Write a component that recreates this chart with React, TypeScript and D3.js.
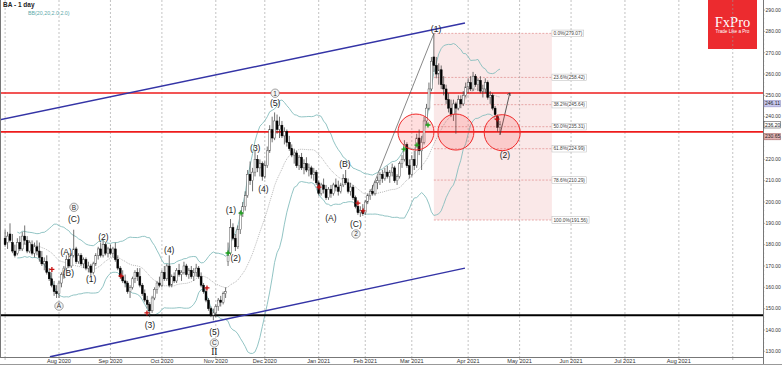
import React, { useRef, useEffect } from "react";
import * as d3 from "d3";

const W = 782;
const H = 366;

// BA daily candles from 1 Jul 2020 to 21 Apr 2021: [open, high, low, close]
const candles: number[][] = [
  // Jul 2020
  [183, 187, 179, 180], [181, 186, 178, 184], [185, 190, 181, 182], [181, 185, 176, 177],
  [177, 180, 174, 175], [176, 183, 175, 181], [181, 184, 177, 178], [178, 186, 177, 184],
  [184, 189, 180, 182], [182, 184, 176, 177], [177, 182, 176, 181], [180, 182, 175, 176],
  [176, 181, 174, 179], [179, 182, 175, 177], [177, 181, 172, 174], [174, 177, 170, 171],
  [171, 174, 168, 172], [172, 175, 166, 167], [167, 169, 163, 164], [164, 167, 160, 161],
  [161, 163, 156, 158], [158, 161, 155, 157],
  // Aug
  [157, 163, 155, 162], [162, 167, 160, 166], [166, 170, 164, 169], [169, 175, 168, 173],
  [173, 176, 169, 170], [170, 176, 169, 175], [175, 187, 174, 178], [178, 179, 171, 172],
  [172, 176, 171, 175], [175, 176, 170, 171], [171, 174, 169, 173], [173, 174, 168, 169],
  [169, 172, 167, 170], [170, 171, 165, 167], [167, 172, 166, 171], [171, 176, 170, 175],
  [175, 179, 173, 178], [178, 181, 174, 175], [175, 182, 174, 180], [180, 181, 175, 176],
  [176, 179, 174, 178],
  // Sep
  [178, 180, 175, 176], [176, 179, 174, 178], [178, 181, 172, 173], [173, 175, 168, 169],
  [169, 170, 164, 165], [165, 168, 162, 163], [163, 166, 160, 162], [162, 163, 157, 158],
  [158, 161, 155, 160], [160, 165, 159, 164], [164, 168, 162, 167], [167, 169, 163, 165],
  [165, 169, 160, 161], [161, 162, 156, 157], [157, 159, 153, 154], [154, 156, 150, 152],
  [152, 153, 146, 149], [149, 156, 148, 155], [155, 160, 154, 159], [159, 163, 157, 162],
  [162, 165, 160, 161],
  // Oct
  [161, 168, 160, 167], [167, 170, 163, 164], [164, 171, 163, 170], [170, 175, 160, 161],
  [161, 166, 160, 165], [165, 167, 162, 163], [163, 169, 162, 168], [168, 171, 165, 166],
  [166, 168, 163, 167], [167, 172, 166, 170], [170, 171, 165, 166], [166, 169, 164, 168],
  [168, 170, 164, 165], [165, 169, 163, 167], [167, 171, 165, 169], [169, 170, 164, 165],
  [165, 167, 160, 161], [161, 162, 157, 158], [158, 160, 153, 154], [154, 155, 149, 150],
  [150, 151, 146, 147], [147, 150, 144.5, 148],
  // Nov
  [148, 152, 146, 151], [151, 155, 149, 154], [154, 156, 151, 153], [153, 158, 152, 157],
  [157, 160, 155, 158], [172, 181, 170, 175], [176, 192, 175, 188], [188, 190, 182, 183],
  [183, 185, 177, 179], [179, 189, 178, 187], [187, 196, 185, 195], [195, 200, 193, 198],
  [198, 205, 196, 203], [203, 215, 202, 213], [213, 219, 208, 210], [210, 216, 205, 214],
  [214, 224, 212, 220], [220, 222, 214, 216], [216, 220, 212, 218], [218, 219, 210, 212],
  // Dec
  [212, 219, 211, 217], [217, 226, 216, 224], [224, 236, 223, 234], [234, 240, 228, 230],
  [230, 242, 229, 238], [238, 241, 232, 234], [234, 240, 230, 236], [236, 238, 230, 231],
  [231, 235, 227, 233], [233, 234, 226, 228], [228, 231, 224, 225], [225, 227, 221, 222],
  [222, 225, 218, 223], [223, 224, 216, 217], [217, 222, 215, 221], [221, 223, 215, 216],
  [216, 220, 213, 218], [218, 221, 214, 215], [215, 218, 212, 216], [216, 217, 211, 213],
  [213, 216, 210, 214], [214, 215, 208, 209],
  // Jan 2021
  [209, 210, 203, 204], [204, 209, 203, 208], [208, 211, 204, 206], [206, 208, 201, 202],
  [202, 207, 201, 206], [206, 208, 202, 204], [204, 209, 203, 208], [208, 211, 205, 207],
  [207, 210, 203, 205], [205, 209, 204, 208], [208, 213, 207, 211], [211, 215, 208, 209],
  [209, 211, 204, 205], [205, 209, 203, 207], [207, 208, 201, 202], [202, 203, 197, 198],
  [198, 200, 194, 195], [195, 198, 193, 196], [196, 199, 193.5, 194.5],
  // Feb
  [195, 201, 194, 200], [200, 204, 199, 203], [203, 206, 201, 205], [205, 208, 203, 204],
  [204, 210, 203, 209], [209, 212, 206, 210], [210, 214, 208, 213], [213, 215, 209, 211],
  [211, 216, 210, 214], [214, 217, 211, 212], [212, 215, 209, 214], [214, 218, 212, 216],
  [216, 217, 209, 210], [210, 213, 208, 212], [212, 219, 211, 218], [218, 222, 216, 220],
  [220, 229, 219, 227], [227, 228, 216, 217], [217, 220, 211, 213],
  // Mar
  [213, 222, 212, 220], [220, 224, 215, 217], [217, 232, 216, 230], [230, 234, 222, 224],
  [224, 231, 215, 228], [228, 240, 227, 238], [238, 246, 236, 244], [244, 256, 243, 253],
  [253, 268, 252, 266], [268, 279, 261, 264], [264, 268, 258, 260], [260, 265, 255, 262],
  [262, 264, 253, 255], [255, 259, 250, 253], [253, 255, 246, 248], [248, 251, 242, 244],
  [244, 248, 240, 241], [241, 248, 238, 246], [246, 247, 232, 244], [244, 250, 243, 248],
  [248, 250, 244, 246], [246, 252, 245, 250], [250, 256, 249, 254],
  // Apr
  [254, 258, 251, 256], [256, 259, 252, 253], [253, 261, 252, 259], [259, 260, 254, 255],
  [255, 258, 252, 257], [257, 259, 251, 252], [252, 255, 249, 253], [253, 258, 251, 256],
  [256, 257, 248, 249], [249, 252, 246, 250], [250, 251, 243, 244], [244, 245, 240, 241],
  [240, 241, 233, 235], [235, 238, 231.5, 236.2],
];

// bar index of the first bar of each month (future bars count weekdays)
const monthLabels = ["", "Aug 2020", "Sep 2020", "Oct 2020", "Nov 2020", "Dec 2020", "Jan 2021",
  "Feb 2021", "Mar 2021", "Apr 2021", "May 2021", "Jun 2021", "Jul 2021", "Aug 2021", ""];
const monthIdx = [0, 22, 43, 64, 86, 106, 128, 147, 166, 189, 210, 231, 253, 275, 297];

const priceTicks = [130, 140, 150, 160, 170, 180, 190, 200, 210, 220, 230, 240, 250, 260, 270, 280, 290];

// horizontal levels
const redLevels = [251.1, 232.9];
const supportLevel = 146.9;

// channel lines: [index, price] pairs
const upperChannel = [[-3, 238.3], [187.7, 283.9]];
const lowerChannel = [[18.3, 127.4], [187.7, 169.0]];
const trendLine = [[146, 195.5], [175, 279]];
const projection = [[202, 231.5], [206, 251.1]];

// fibonacci retracement
const fibHigh = 279.07;
const fibLow = 191.56;
const fibRatios = [0, 0.236, 0.382, 0.5, 0.618, 0.786, 1];
const fibFrom = 175;
const fibTo = 223.2;

// highlighted zones (index, price)
const circles = [[167.7, 232.8], [184.0, 232.8], [202.9, 232.5]];

// signal crosses
const redCrosses = [[19.1, 168.4], [47.3, 165.3], [57.9, 148.0], [82.4, 159.7], [128.1, 207.0], [144.0, 199.5], [146.1, 195.8], [200.8, 238.9]];
const greenCrosses = [[91.0, 176.1], [96.3, 194.8], [162.8, 224.8], [168.1, 226.7], [172.6, 236.1]];

// wave labels: text, index, price, circled
const waveLabels: [string, number, number, boolean][] = [
  ["A", 22.0, 151.2, true], ["(A)", 24.9, 176.6, false], ["(B)", 25.8, 166.8, false],
  ["(C)", 28.1, 191.9, false], ["B", 28.1, 197.5, true], ["(1)", 35.1, 163.8, false],
  ["(2)", 40.1, 183.7, false], ["(3)", 59.1, 142.3, false], ["(4)", 67.0, 177.5, false],
  ["(5)", 85.4, 139.0, false], ["C", 85.4, 133.9, true],
  ["(1)", 92.2, 196.2, false], ["(2)", 94.1, 173.6, false], ["(3)", 102.1, 225.2, false],
  ["(4)", 105.4, 205.9, false], ["(5)", 110.2, 246.3, false], ["1", 110.2, 251.0, true],
  ["(A)", 133.0, 192.4, false], ["(B)", 138.7, 217.7, false], ["(C)", 143.2, 189.9, false],
  ["2", 143.2, 185.0, true], ["(1)", 175.9, 281.0, false], ["(2)", 204.0, 222.0, false],
];

// price boxes on the right scale
const axisMarks = [
  { v: 246.11, fill: "#c9c9ef", stroke: "#8888bb" },
  { v: candles[candles.length - 1][3], fill: "#ffffff", stroke: "#333333" },
  { v: 230.65, fill: "#e2b4b4", stroke: "#a06060" },
];

const FONT = "'Liberation Sans', Arial, sans-serif";

export default function App() {
  const svgRef = useRef<SVGSVGElement>(null);

  useEffect(() => {
    const svg = d3.select(svgRef.current);
    svg.selectAll("*").remove();

    const plotR = 763;
    const plotB = 357;

    const x = d3.scaleLinear().domain([0, 300]).range([5.1, 5.1 + 2.45 * 300]);
    const y = d3.scaleLinear().domain([130, 290]).range([351.3, 10.05]);

    svg.append("rect").attr("width", W).attr("height", H).attr("fill", "#fff");

    svg.append("defs").append("clipPath").attr("id", "plot")
      .append("rect").attr("x", 0).attr("y", 0).attr("width", plotR).attr("height", plotB);

    const g = svg.append("g").attr("clip-path", "url(#plot)");

    // fib box
    g.append("rect")
      .attr("x", x(fibFrom)).attr("y", y(fibHigh))
      .attr("width", x(fibTo) - x(fibFrom)).attr("height", y(fibLow) - y(fibHigh))
      .attr("fill", "rgba(232,150,150,0.22)");
    const fibLevels = fibRatios.map((r) => ({ r, v: fibHigh - r * (fibHigh - fibLow) }));
    g.selectAll(".fib").data(fibLevels).join("line")
      .attr("x1", x(fibFrom)).attr("x2", x(fibTo))
      .attr("y1", (d) => y(d.v)).attr("y2", (d) => y(d.v))
      .attr("stroke", "#e08a8a").attr("stroke-width", 0.7).attr("stroke-dasharray", "2,1.5");

    // logo (under grid)
    const logo = g.append("g");
    logo.append("rect").attr("x", 708).attr("y", 0).attr("width", 49).attr("height", 49).attr("fill", "#ec2b2f");
    logo.append("text").attr("x", 732.5).attr("y", 27).attr("text-anchor", "middle")
      .attr("font-family", "'Liberation Serif', 'DejaVu Serif', serif").attr("font-size", 14.5)
      .attr("fill", "#fff").text("FxPro");
    logo.append("text").attr("x", 732.5).attr("y", 33).attr("text-anchor", "middle")
      .attr("font-family", FONT).attr("font-size", 4.6).attr("fill", "#fff").text("Trade Like a Pro");

    // vertical grid
    g.selectAll(".grid").data(monthIdx).join("line")
      .attr("x1", (d) => x(d)).attr("x2", (d) => x(d))
      .attr("y1", 0).attr("y2", plotB)
      .attr("stroke", "#9a9a9a").attr("stroke-width", 0.6).attr("stroke-dasharray", "2,2");

    // bollinger bands (20, 2)
    const closes = candles.map((d) => d[3]);
    const bb = closes.map((_, i) => {
      const w = closes.slice(Math.max(0, i - 19), i + 1);
      const m = d3.mean(w) as number;
      const s = Math.sqrt(d3.mean(w, (v) => (v - m) ** 2) as number);
      return { i, m, up: m + 2 * s, lo: m - 2 * s };
    }).filter((d) => d.i >= 5);
    const lineOf = (f: (d: any) => number) => d3.line<any>().x((d) => x(d.i)).y((d) => y(f(d)));
    g.append("path").attr("d", lineOf((d) => d.up)(bb)).attr("fill", "none").attr("stroke", "#86bdbd").attr("stroke-width", 0.9);
    g.append("path").attr("d", lineOf((d) => d.lo)(bb)).attr("fill", "none").attr("stroke", "#86bdbd").attr("stroke-width", 0.9);
    g.append("path").attr("d", lineOf((d) => d.m)(bb)).attr("fill", "none").attr("stroke", "#888").attr("stroke-width", 0.6).attr("stroke-dasharray", "1,1");

    // horizontal levels
    g.selectAll(".red").data(redLevels).join("line")
      .attr("x1", 0).attr("x2", plotR).attr("y1", (d) => y(d)).attr("y2", (d) => y(d))
      .attr("stroke", "#ee1c1c").attr("stroke-width", 1.6);
    g.append("line").attr("x1", 0).attr("x2", plotR).attr("y1", y(supportLevel)).attr("y2", y(supportLevel))
      .attr("stroke", "#000").attr("stroke-width", 2);

    // channel and trend lines
    const seg = (pts: number[][], color: string, w: number) =>
      g.append("line")
        .attr("x1", x(pts[0][0])).attr("y1", y(pts[0][1]))
        .attr("x2", x(pts[1][0])).attr("y2", y(pts[1][1]))
        .attr("stroke", color).attr("stroke-width", w);
    seg(upperChannel, "#3434a6", 1.5);
    seg(lowerChannel, "#3434a6", 1.5);
    seg(trendLine, "#555", 0.7);
    seg(projection, "#333", 0.8);
    g.append("path")
      .attr("d", `M${x(projection[1][0]) - 2.5},${y(projection[1][1]) + 1.5} l2.5,-1.5 l0.5,2.8`)
      .attr("fill", "none").attr("stroke", "#333").attr("stroke-width", 0.8);

    // candles
    const cg = g.append("g");
    cg.selectAll("line").data(candles).join("line")
      .attr("x1", (_, i) => x(i)).attr("x2", (_, i) => x(i))
      .attr("y1", (d) => y(d[1])).attr("y2", (d) => y(d[2]))
      .attr("stroke", "#333").attr("stroke-width", 0.7);
    cg.selectAll("rect").data(candles).join("rect")
      .attr("x", (_, i) => x(i) - 0.95).attr("width", 1.9)
      .attr("y", (d) => y(Math.max(d[0], d[3])))
      .attr("height", (d) => Math.max(0.8, Math.abs(y(d[0]) - y(d[3]))))
      .attr("fill", (d) => (d[3] >= d[0] ? "#fff" : "#000"))
      .attr("stroke", (d) => (d[3] >= d[0] ? "#555" : "#000"))
      .attr("stroke-width", 0.5);

    // circles
    g.selectAll(".zone").data(circles).join("circle")
      .attr("cx", (d) => x(d[0])).attr("cy", (d) => y(d[1])).attr("r", 18)
      .attr("fill", "rgba(255,70,70,0.18)").attr("stroke", "#f02828").attr("stroke-width", 1);

    // crosses
    const cross = (pts: number[][], color: string) =>
      g.append("g").selectAll("path").data(pts).join("path")
        .attr("d", (d) => `M${x(d[0]) - 2.5},${y(d[1])}h5M${x(d[0])},${y(d[1]) - 2.5}v5`)
        .attr("stroke", color).attr("stroke-width", 1.3);
    cross(redCrosses, "#c81010");
    cross(greenCrosses, "#18a018");

    // wave labels
    const wl = g.append("g").attr("font-family", FONT).attr("text-anchor", "middle");
    waveLabels.forEach(([t, i, p, circ]) => {
      if (circ) {
        wl.append("circle").attr("cx", x(i)).attr("cy", y(p)).attr("r", 4.2)
          .attr("fill", "#f4f4f4").attr("stroke", "#666").attr("stroke-width", 0.6);
        wl.append("text").attr("x", x(i)).attr("y", y(p) + 2.3).attr("font-size", 6.5).attr("fill", "#333").text(t);
      } else {
        wl.append("text").attr("x", x(i)).attr("y", y(p) + 3).attr("font-size", 8.5).attr("fill", "#222").text(t);
      }
    });
    wl.append("text").attr("x", x(85.4)).attr("y", y(129.7) + 3.5)
      .attr("font-family", "'Liberation Serif', serif").attr("font-size", 9.5).attr("fill", "#222").text("II");

    // fib labels
    const fl = svg.append("g").attr("font-family", FONT).attr("font-size", 4.8);
    fibLevels.forEach((d) => {
      const t = fl.append("text").attr("x", x(fibTo) + 1.5).attr("y", y(d.v) + 1.7).attr("fill", "#444")
        .text(`${(d.r * 100).toFixed(1)}%(${d.v.toFixed(2)})`);
      const w = (t.node() as SVGTextElement).getComputedTextLength();
      fl.insert("rect", "text").attr("x", x(fibTo)).attr("y", y(d.v) - 3.3)
        .attr("width", w + 3).attr("height", 6.6).attr("fill", "#fff").attr("stroke", "#b8b8b8").attr("stroke-width", 0.5);
    });

    // frame
    svg.append("line").attr("x1", 0.5).attr("x2", 0.5).attr("y1", 0).attr("y2", plotB).attr("stroke", "#777").attr("stroke-width", 1);
    svg.append("line").attr("x1", 0).attr("x2", plotR).attr("y1", plotB + 0.5).attr("y2", plotB + 0.5).attr("stroke", "#777").attr("stroke-width", 1);
    svg.append("line").attr("x1", plotR + 0.5).attr("x2", plotR + 0.5).attr("y1", 0).attr("y2", 364).attr("stroke", "#777").attr("stroke-width", 1);
    svg.append("line").attr("x1", 0).attr("x2", W).attr("y1", 364.5).attr("y2", 364.5).attr("stroke", "#999").attr("stroke-width", 1);

    // right price scale
    const ax = svg.append("g").attr("font-family", FONT).attr("font-size", 5).attr("fill", "#333");
    ax.selectAll("line").data(d3.range(130, 292, 2)).join("line")
      .attr("x1", plotR).attr("x2", (d) => plotR + (d % 10 === 0 ? 2.2 : 1.2))
      .attr("y1", (d) => y(d)).attr("y2", (d) => y(d)).attr("stroke", "#777").attr("stroke-width", 0.5);
    ax.selectAll("text").data(priceTicks).join("text")
      .attr("x", plotR + 2.6).attr("y", (d) => y(d) + 1.8).text((d) => d.toFixed(2));
    axisMarks.forEach((m) => {
      svg.append("rect").attr("x", plotR + 1).attr("y", y(m.v) - 3.2).attr("width", 16.5).attr("height", 6.4)
        .attr("fill", m.fill).attr("stroke", m.stroke).attr("stroke-width", 0.5);
      svg.append("text").attr("x", plotR + 2).attr("y", y(m.v) + 1.8).attr("font-family", FONT)
        .attr("font-size", 5).attr("fill", "#222").text(m.v.toFixed(2));
    });

    // bottom time scale
    const tx = svg.append("g").attr("font-family", FONT).attr("font-size", 5.6).attr("fill", "#333").attr("text-anchor", "middle");
    tx.selectAll("line").data(monthIdx).join("line")
      .attr("x1", (d) => x(d)).attr("x2", (d) => x(d)).attr("y1", plotB).attr("y2", plotB + 3)
      .attr("stroke", "#777").attr("stroke-width", 0.5);
    tx.selectAll("text").data(monthIdx).join("text")
      .attr("x", (d) => x(d)).attr("y", 363).text((_, i) => monthLabels[i]);

    // header
    svg.append("text").attr("x", 3).attr("y", 7).attr("font-family", FONT).attr("font-size", 6.5)
      .attr("font-weight", "bold").attr("fill", "#222").text("BA - 1 day");
    svg.append("text").attr("x", 28).attr("y", 15).attr("font-family", FONT).attr("font-size", 5.3)
      .attr("fill", "#5aa8a8").text("BB(20,20,2.0,2.0)");
  }, []);

  return <svg ref={svgRef} width={W} height={H} style={{ position: "fixed", left: 0, top: 0 }} />;
}
